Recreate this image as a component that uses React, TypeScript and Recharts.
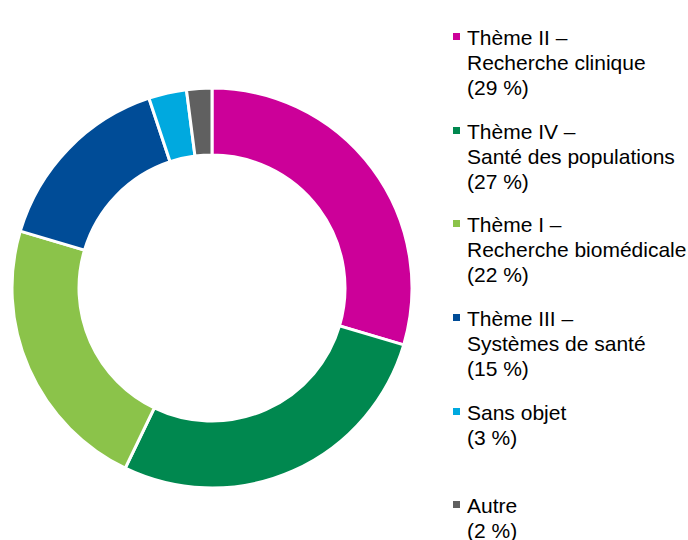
import React from "react";
import { PieChart, Pie, Cell, Legend } from "recharts";

const categories = ["Thème II", "Thème IV", "Thème I", "Thème III", "Sans objet", "Autre"];
const subtitles = ["Recherche clinique", "Santé des populations", "Recherche biomédicale", "Systèmes de santé", "", ""];
const values = [29, 27, 22, 15, 3, 2];
const colors = ["#CC0099", "#00884F", "#8BC34A", "#004C97", "#00A9DF", "#606060"];

const data = categories.map((c, i) => ({ name: c, value: values[i] }));

const FONT = '"Liberation Sans", Arial, Helvetica, sans-serif';

const LegendContent = () => {
  return (
    <div style={{ position: "relative", width: 688, height: 540, fontFamily: FONT }}>
      {categories.map((c, i) => {
        const top = 25.2 + i * 93.6;
        const lines: string[] = [];
        if (subtitles[i]) {
          lines.push(c + " –");
          lines.push(subtitles[i]);
        } else {
          lines.push(c);
        }
        lines.push("(" + values[i] + " %)");
        return (
          <div key={c}>
            <div
              style={{
                position: "absolute",
                left: 453,
                top: top + 8,
                width: 7,
                height: 7,
                background: colors[i],
              }}
            />
            {lines.map((t, j) => (
              <div
                key={j}
                style={{
                  position: "absolute",
                  left: 467,
                  top: top + j * 25,
                  fontSize: 21,
                  lineHeight: "25px",
                  color: "#000",
                  whiteSpace: "pre",
                }}
              >
                {t}
              </div>
            ))}
          </div>
        );
      })}
    </div>
  );
};

export default function App() {
  return (
    <div style={{ position: "absolute", left: 0, top: 0, width: 688, height: 540, background: "#fff" }}>
      <PieChart width={688} height={540} margin={{ top: 0, right: 0, bottom: 0, left: 0 }}>
        <Pie
          data={data}
          dataKey="value"
          nameKey="name"
          cx={212}
          cy={288}
          innerRadius={133}
          outerRadius={200}
          startAngle={90}
          endAngle={-270}
          stroke="#ffffff"
          strokeWidth={3}
          isAnimationActive={false}
        >
          {data.map((d, i) => (
            <Cell key={d.name} fill={colors[i]} />
          ))}
        </Pie>
        <Legend
          layout="vertical"
          align="center"
          verticalAlign="middle"
          content={<LegendContent />}
          wrapperStyle={{ position: "absolute", left: 0, top: 0, width: 688, height: 540 }}
        />
      </PieChart>
    </div>
  );
}
